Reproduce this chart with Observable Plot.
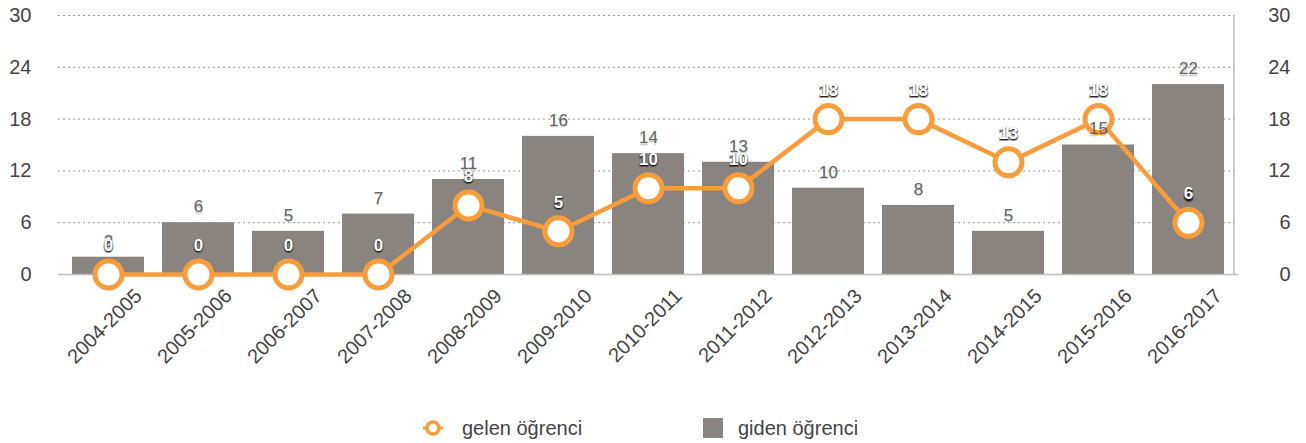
<!DOCTYPE html>
<html>
<head>
<meta charset="utf-8">
<script src="https://cdn.jsdelivr.net/npm/d3@7"></script>
<script src="https://cdn.jsdelivr.net/npm/@observablehq/plot@0.6"></script>
<style>
  body { margin: 0; background: white; }
  #wrap { position: relative; width: 1306px; height: 443px; font-family: "Liberation Sans", Arial, sans-serif; }
  .legend { position: absolute; top: 414px; left: 0; width: 1306px; height: 28px; font-size: 20px; color: #444; }
  .item { position: absolute; top: 0; display: flex; align-items: center; height: 28px; }
</style>
</head>
<body>
<div id="wrap">
  <div id="chart"></div>
  <div class="legend">
    <div class="item" style="left:420px">
      <svg width="26" height="20" style="margin-right:16px"><line x1="3" y1="10" x2="23" y2="10" stroke="#f99d3c" stroke-width="3"/><circle cx="13" cy="10" r="6" fill="white" stroke="#f99d3c" stroke-width="3.5"/></svg>
      <span>gelen öğrenci</span>
    </div>
    <div class="item" style="left:703px">
      <svg width="20" height="20" style="margin-right:15px"><rect x="0" y="0" width="20" height="20" fill="#89847f"/></svg>
      <span>giden öğrenci</span>
    </div>
  </div>
</div>
<script>
const categories = ["2004-2005","2005-2006","2006-2007","2007-2008","2008-2009","2009-2010","2010-2011","2011-2012","2012-2013","2013-2014","2014-2015","2015-2016","2016-2017"];
const gidenValues = [2, 6, 5, 7, 11, 16, 14, 13, 10, 8, 5, 15, 22];
const gelenValues = [0, 0, 0, 0, 8, 5, 10, 10, 18, 18, 13, 18, 6];
const yTicks = [0, 6, 12, 18, 24, 30];

const data = categories.map((c, i) => ({year: c, giden: gidenValues[i], gelen: gelenValues[i]}));

const W = 1306, H = 400, mL = 58, mR = 68, mT = 15, mB = 126;
const halfStep = (W - mL - mR) / categories.length / 2;

const chart = Plot.plot({
  width: W, height: H,
  marginTop: mT, marginBottom: mB, marginLeft: mL, marginRight: mR,
  style: {fontFamily: "'Liberation Sans', Arial, sans-serif", fontSize: "20px", color: "#444", background: "white", overflow: "visible"},
  x: {domain: categories, paddingInner: 0.2, paddingOuter: 0.1, label: null},
  y: {domain: [0, 30], label: null},
  marks: [
    Plot.gridY(yTicks.slice(1), {stroke: "#999", strokeOpacity: 1, strokeDasharray: "2,3"}),
    Plot.ruleX([categories[categories.length - 1]], {y1: 0, y2: 30, dx: halfStep, stroke: "#bbb", strokeWidth: 1.5}),
    Plot.barY(data, {x: "year", y: "giden", fill: "#89847f"}),
    Plot.ruleY([0], {stroke: "#bbb", strokeWidth: 1.5}),
    Plot.line(data, {x: "year", y: "gelen", stroke: "#f99d3c", strokeWidth: 4.5}),
    Plot.dot(data, {x: "year", y: "gelen", r: 13.5, fill: "white", stroke: "#f99d3c", strokeWidth: 5}),
    // bar labels with faint shadow (drawn above the line, as in the reference)
    Plot.text(data, {x: "year", y: "giden", text: d => String(d.giden), dy: -14.5, fill: "#000", fillOpacity: 0.12, stroke: "#000", strokeOpacity: 0.08, strokeWidth: 1.5, fontSize: 17}),
    Plot.text(data, {x: "year", y: "giden", text: d => String(d.giden), dy: -16, fill: "#666", fontSize: 17}),
    // line labels: dark shadow then white text
    Plot.text(data, {x: "year", y: "gelen", text: d => String(d.gelen), dy: -27.5, fill: "#111", fillOpacity: 0.85, stroke: "#111", strokeOpacity: 0.45, strokeWidth: 2, fontWeight: "bold", fontSize: 17}),
    Plot.text(data, {x: "year", y: "gelen", text: d => String(d.gelen), dy: -29, fill: "white", fontWeight: "bold", fontSize: 17}),
    Plot.axisY(yTicks, {anchor: "left", tickSize: 0, tickPadding: 27, label: null, fill: "#444"}),
    Plot.axisY(yTicks, {anchor: "right", tickSize: 0, tickPadding: 52, textAnchor: "end", label: null, fill: "#444"}),
    Plot.axisX({tickSize: 0, tickRotate: -45, tickPadding: 6, dx: 30, dy: 12, label: null, fill: "#444"})
  ]
});
document.getElementById("chart").appendChild(chart);
</script>
</body>
</html>
